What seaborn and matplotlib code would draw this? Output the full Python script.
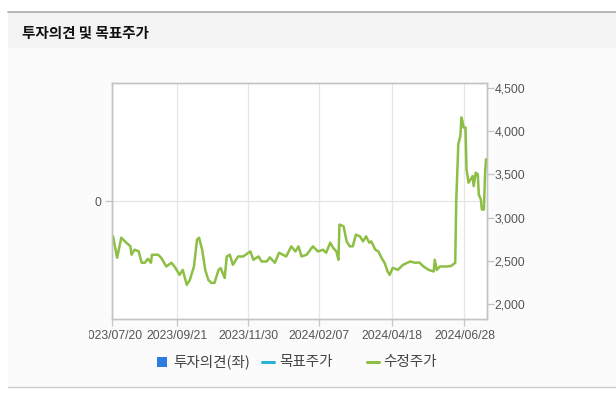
import matplotlib
matplotlib.use("Agg")
import matplotlib.pyplot as plt
from matplotlib.patches import Rectangle
from matplotlib.lines import Line2D
import seaborn as sns
import pandas as pd

# ---------------- data ----------------
start = "2023-07-20"
day_offsets = [0, 1, 5, 7, 9, 14, 18, 19, 22, 26, 29, 32, 35, 38, 39, 45, 48, 53, 58, 61,
               66, 69, 73, 76, 80, 83, 85, 88, 91, 94, 97, 100, 104, 106, 110, 112, 115, 118,
               123, 128, 135, 138, 143, 146, 151, 154, 159, 163, 170, 175, 179, 182, 185, 190,
               196, 201, 206, 209, 213, 216, 219, 221, 222, 226, 229, 232, 235, 238, 242, 245,
               248, 251, 253, 257, 260, 263, 266, 269, 271, 274, 279, 284, 291, 296, 300, 304,
               309, 314, 315, 317, 320, 327, 331, 335, 336, 337, 338, 340, 341, 342, 343, 345,
               346, 348, 350, 352, 353, 355, 357, 358, 360, 361, 363, 364, 365]
price = [2740, 2783, 2535, 2650, 2767, 2709, 2667, 2570, 2628, 2610, 2477, 2477, 2523, 2477,
         2570, 2570, 2535, 2434, 2477, 2434, 2337, 2395, 2221, 2279, 2434, 2744, 2767, 2628,
         2395, 2279, 2244, 2244, 2395, 2415, 2302, 2550, 2570, 2453, 2550, 2550, 2608, 2512,
         2550, 2492, 2492, 2539, 2477, 2593, 2550, 2667, 2608, 2667, 2550, 2570, 2667, 2608,
         2628, 2593, 2709, 2647, 2608, 2512, 2919, 2900, 2725, 2667, 2667, 2802, 2783, 2725,
         2783, 2709, 2725, 2628, 2608, 2535, 2477, 2376, 2337, 2418, 2395, 2453, 2492, 2477,
         2480, 2434, 2395, 2376, 2512, 2395, 2434, 2434, 2440, 2477, 3209, 3520, 3849, 3946,
         4159, 4120, 4043, 4043, 3558, 3403, 3442, 3481, 3365, 3520, 3500, 3267, 3209, 3093,
         3093, 3481, 3675]
xtick_labels = ["2023/07/20", "2023/09/21", "2023/11/30", "2024/02/07", "2024/04/18", "2024/06/28"]
right_ticks = [2000, 2500, 3000, 3500, 4000, 4500]
legend_labels = ["투자의견(좌)", "목표주가", "수정주가"]
title = "투자의견 및 목표주가"

dates = pd.Timestamp(start) + pd.to_timedelta(day_offsets, unit="D")
df = pd.DataFrame({"date": dates, "price": price})

# ---------------- style ----------------
sns.set_style("white")
plt.rcParams["font.family"] = ["Liberation Sans", "Noto Sans CJK KR", "DejaVu Sans"]
KR = ["Noto Sans CJK KR", "DejaVu Sans"]

W, H = 616, 393
fig = plt.figure(figsize=(W / 100, H / 100), dpi=100)
fig.patch.set_facecolor("white")

def fx(x):
    return x / W

def fy(y):
    return 1 - y / H

# background panels
fig.add_artist(Rectangle((fx(8), fy(387)), fx(W - 8), (387 - 48) / H,
                         transform=fig.transFigure, facecolor="#fbfbfb", edgecolor="none", zorder=-10))
fig.add_artist(Rectangle((fx(8), fy(48)), fx(W - 8), (48 - 12) / H,
                         transform=fig.transFigure, facecolor="#f3f3f3", edgecolor="none", zorder=-9))
fig.add_artist(Line2D([fx(8), 1], [fy(12), fy(12)], transform=fig.transFigure,
                      color="#aaaaaa", lw=1.2, zorder=-8))
fig.add_artist(Line2D([fx(8), 1], [fy(387), fy(387)], transform=fig.transFigure,
                      color="#cccccc", lw=1.0, zorder=-8))
fig.text(fx(22), fy(33), title, family=KR, fontsize=10.5, fontweight="bold",
         color="#111111", va="center", ha="left")

# axes
L, R, T, B = 112, 487, 83, 319
ax = fig.add_axes([fx(L), fy(B), (R - L) / W, (B - T) / H])
ax.set_facecolor("white")
ax2 = ax.twinx()

sns.lineplot(data=df, x="date", y="price", ax=ax2, color="#8cbf44", linewidth=1.8)

x0 = pd.Timestamp(start)
ax.set_xlim(x0, x0 + pd.Timedelta(days=366))
ax2.set_xlim(x0, x0 + pd.Timedelta(days=366))
ax2.set_ylim(1826, 4558)
ax.set_ylim(-1, 1)

tick_dates = [pd.Timestamp(s.replace("/", "-")) for s in xtick_labels]
ax.set_xticks(tick_dates)
ax.set_xticklabels(xtick_labels)
ax.set_yticks([0])
ax.set_yticklabels(["0"])
ax2.set_yticks(right_ticks)
ax2.set_yticklabels([f"{v:,}" for v in right_ticks])
ax2.set_xlabel("")
ax2.set_ylabel("")
ax.set_xlabel("")

ax.grid(True, axis="both", color="#e6e6e6", linewidth=0.9)
ax2.grid(False)

for a in (ax, ax2):
    for s in a.spines.values():
        s.set_color("#c4c4c4")
        s.set_linewidth(1.0)

ax.tick_params(axis="x", direction="out", length=5, width=0.9, color="#c4c4c4",
               labelsize=8.8, labelcolor="#555555", pad=3, bottom=True)
ax.tick_params(axis="y", direction="out", length=5, width=0.9, color="#c4c4c4",
               labelsize=8.8, labelcolor="#555555", pad=3, left=True)
ax2.tick_params(axis="y", direction="out", length=5, width=0.9, color="#c4c4c4",
                labelsize=8.8, labelcolor="#555555", pad=0.5, right=True)

# cover the clipped part of the first date label
fig.add_artist(Rectangle((fx(8), fy(345)), fx(89 - 8), (345 - 322) / H,
                         transform=fig.transFigure, facecolor="#fbfbfb", edgecolor="none", zorder=5))

# legend (manual)
ly = fy(362)
fs = 10.5
fig.add_artist(Rectangle((fx(157), fy(367)), fx(10), 10 / H, transform=fig.transFigure,
                         facecolor="#2b7de0", edgecolor="none", zorder=6))
fig.text(fx(173), ly, legend_labels[0], family=KR, fontsize=fs, color="#444444",
         va="center", ha="left")
fig.add_artist(Line2D([fx(262), fx(274)], [ly, ly], transform=fig.transFigure,
                      color="#27b3d3", lw=2.2, zorder=6))
fig.text(fx(279), ly, legend_labels[1], family=KR, fontsize=fs, color="#444444",
         va="center", ha="left")
fig.add_artist(Line2D([fx(367), fx(379)], [ly, ly], transform=fig.transFigure,
                      color="#8cbf44", lw=2.2, zorder=6))
fig.text(fx(383), ly, legend_labels[2], family=KR, fontsize=fs, color="#444444",
         va="center", ha="left")

fig.savefig("out.png", dpi=100, facecolor=fig.get_facecolor())
